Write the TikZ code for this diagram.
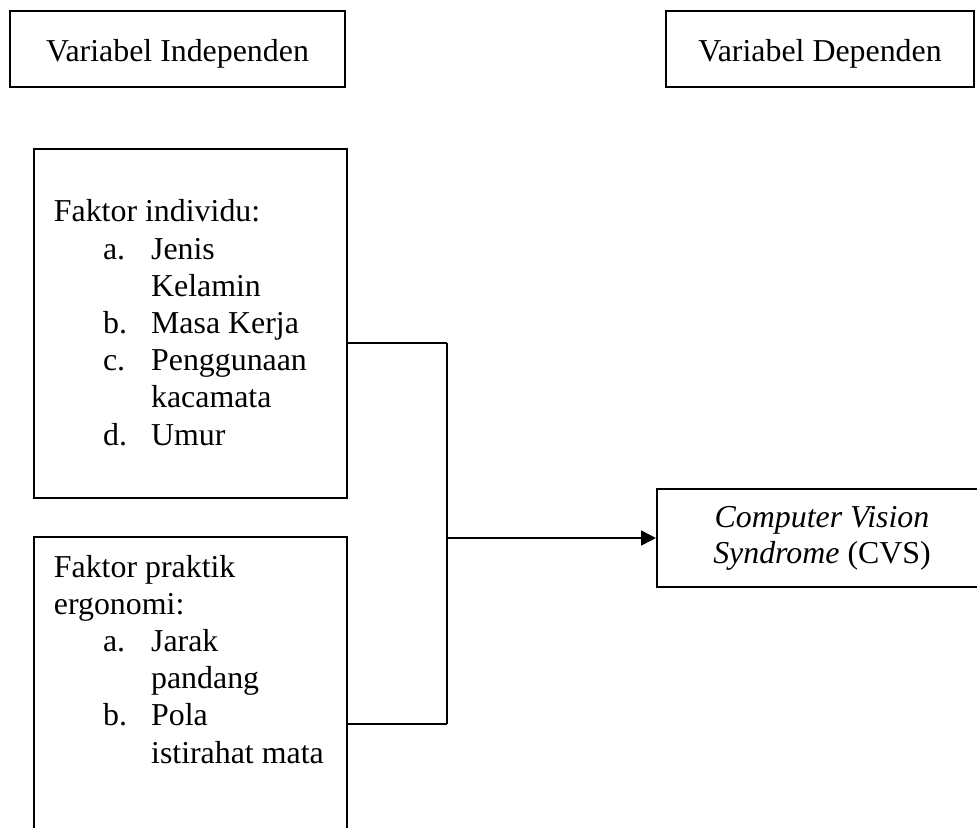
\documentclass[tikz,border=0pt]{standalone}
\usepackage{fontspec}
\setmainfont{Liberation Serif}
\usetikzlibrary{positioning, arrows.meta}
\newlength{\pxu}
\setlength{\pxu}{0.3765pt}
\newcommand{\butir}[1]{\hspace*{18.5pt}\makebox[18.1pt][l]{#1}}

\begin{document}
\begin{tikzpicture}[x=\pxu, y=-\pxu, ->, >={Triangle[length=5.6pt,width=5.6pt]}, line width=0.7pt,
  kotak/.style={draw, line width=0.8pt, rectangle, inner sep=0pt, align=center, font=\fontsize{12pt}{13.5pt}\selectfont},
  judul/.style={kotak, text depth=0pt, text height=9.6pt, minimum height={76*\pxu}},
  isian/.style={inner sep=0pt, align=left, anchor=base west, font=\fontsize{12pt}{14pt}\selectfont}]
  \useasboundingbox (0,0) rectangle (977,827);
  \clip (0,0) rectangle (977,827);

  % judul variabel
  \node[judul, minimum width={335*\pxu}] (vi) at (177.5,49) {Variabel Independen};
  \node[judul, minimum width={308*\pxu}] (vd) at (820,49) {Variabel Dependen};

  % kotak faktor
  \node[kotak, minimum width={313*\pxu}, minimum height={349*\pxu}, anchor=north west] (indiv) at (33,148) {};
  \node[kotak, minimum width={313*\pxu}, minimum height={380*\pxu}, anchor=north west] (ergo) at (33,536) {};
  \node[isian] (tindiv) at (53,445) {Faktor individu:\\
    \butir{a.}Jenis\\ \butir{}Kelamin\\
    \butir{b.}Masa Kerja\\
    \butir{c.}Penggunaan\\ \butir{}kacamata\\
    \butir{d.}Umur};
  \node[isian] (tergo) at (53,763) {Faktor praktik\\ ergonomi:\\
    \butir{a.}Jarak\\ \butir{}pandang\\
    \butir{b.}Pola\\ \butir{}istirahat mata};

  \node[kotak, minimum width={330*\pxu}, minimum height={98*\pxu}] (cvs) at (822,538) {\textit{Computer Vision}\\ \textit{Syndrome} (CVS)};

  \coordinate (atas) at (447,343);
  \coordinate (bawah) at (447,724);
  \coordinate (simpang) at (447,538);

  \path[-]
    (indiv.east |- atas) edge (atas)
    (atas) edge (bawah)
    (bawah) edge (ergo.east |- bawah);
  \path
    (simpang) edge (cvs.west);
\end{tikzpicture}
\end{document}
